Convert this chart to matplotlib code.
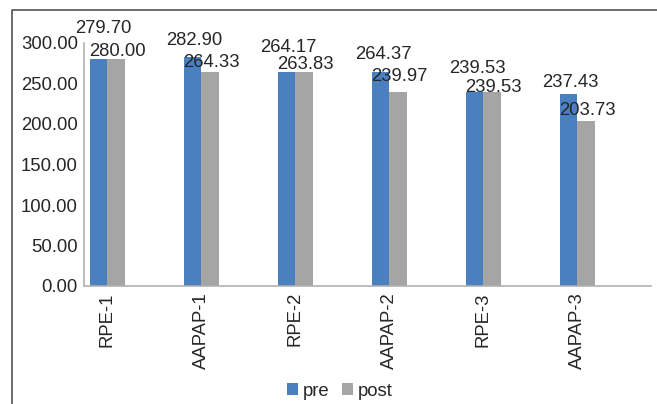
import numpy as np
import matplotlib
matplotlib.use("Agg")
import matplotlib.pyplot as plt
from matplotlib.lines import Line2D

# ------------------------------------------------------------------------------
#                              Chart data
# ------------------------------------------------------------------------------
groups = ["RPE-1", "AAPAP-1", "RPE-2", "AAPAP-2", "RPE-3", "AAPAP-3"]
pre_values = [279.70, 282.90, 264.17, 264.37, 239.53, 237.43]
post_values = [280.00, 264.33, 263.83, 239.97, 239.53, 203.73]
y_ticks = [0, 50, 100, 150, 200, 250, 300]

# label offsets in pixels (dx, dy above the bar top)
pre_offsets = [(5, 26), (2, 12), (2, 20), (3, 13), (3, 19), (2, 7)]
post_offsets = [(2, 3), (2, 5), (2, 3), (2, 11), (2, 0), (2, 6)]

blue = "#4a7fc0"
grey = "#a5a5a5"
text_col = "#262626"

plt.rcParams['font.family'] = ['Liberation Sans', 'DejaVu Sans']
plt.rcParams['font.size'] = 13.3

fig = plt.figure(figsize=(6.57, 4.04), dpi=100)
ax = fig.add_axes([84 / 657, 1 - 286 / 404, (651 - 84) / 657, (286 - 43) / 404])

x = np.arange(len(groups))
width = 0.186
bars_pre = ax.bar(x - width / 2, pre_values, width, color=blue, label="pre")
bars_post = ax.bar(x + width / 2, post_values, width, color=grey, label="post")

for bars, values, offsets in [(bars_pre, pre_values, pre_offsets),
                              (bars_post, post_values, post_offsets)]:
    for b, v, (dx, dy) in zip(bars, values, offsets):
        ax.annotate(f"{v:.2f}", (b.get_x() + b.get_width() / 2, v),
                    xytext=(dx, dy), textcoords="offset pixels",
                    ha="center", va="baseline", color=text_col)

ax.set_xlim(-0.245, 5.787)
ax.set_ylim(0, 300)
ax.set_yticks(y_ticks)
ax.set_yticklabels([f"{t:.2f}" for t in y_ticks])
ax.set_xticks(x)
ax.set_xticklabels(groups, rotation=90)
ax.tick_params(axis="both", length=0, colors=text_col, pad=4.5)

for side in ["top", "right"]:
    ax.spines[side].set_visible(False)
for side in ["left", "bottom"]:
    ax.spines[side].set_color("#b0b0b0")
    ax.spines[side].set_linewidth(1.2)

fig.legend(loc="center", bbox_to_anchor=(340 / 657, 1 - 391 / 404), ncol=2,
           frameon=False, handlelength=0.6, handleheight=0.6,
           handletextpad=0.25, columnspacing=0.7, labelcolor=text_col)

# outer chart border (left and top edges)
fig.add_artist(Line2D([12 / 657, 12 / 657, 1.0], [0.0, 1 - 10 / 404, 1 - 10 / 404],
                      transform=fig.transFigure, color="#606060", linewidth=1.3))

fig.savefig("out.png", dpi=100)
